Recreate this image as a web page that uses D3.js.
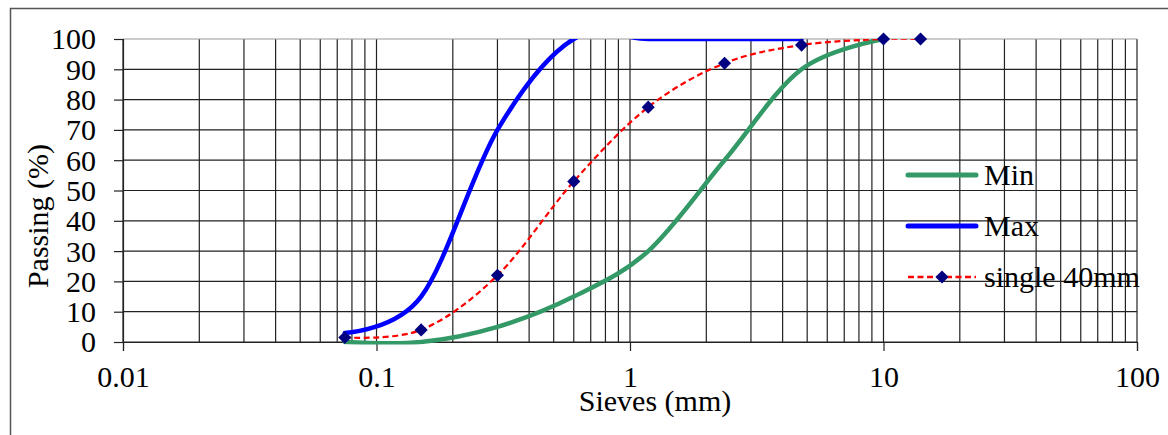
<!DOCTYPE html>
<html>
<head>
<meta charset="utf-8">
<script src="https://cdn.jsdelivr.net/npm/d3@7"></script>
<style>
  html, body { margin: 0; padding: 0; background: #fff; }
  svg { display: block; }
  text { font-family: "Liberation Serif", "Times New Roman", serif; fill: #000; }
</style>
</head>
<body>
<svg id="chart" width="1168" height="435"></svg>
<script>
// ---- data ----
const sieves = [0.075, 0.15, 0.3, 0.6, 1.18, 2.36, 4.75, 10, 14];
const single40 = [1.5, 4, 22, 53, 77.5, 92, 98, 100, 100];
const minSieves = [0.075, 0.15, 0.3, 0.6, 1.18, 2.36, 4.75, 10];
const minPass = [0, 0, 5, 15, 30, 60, 90, 100];
const maxSieves = [0.075, 0.15, 0.3, 0.6, 1.18, 2.36, 4.75];
const maxPass = [3, 15, 70, 100, 100, 100, 100];
const xTickValues = [0.01, 0.1, 1, 10, 100];
const xTickLabels = ["0.01", "0.1", "1", "10", "100"];
const yTickValues = [0, 10, 20, 30, 40, 50, 60, 70, 80, 90, 100];
const seriesNames = ["Min", "Max", "single 40mm"];

(function () {
// ---- layout ----
const svg = d3.select("#chart");
const pLeft = 123, pRight = 1137, pTop = 39, pBottom = 342;
const x = d3.scaleLog().domain([0.01, 100]).range([pLeft, pRight]);
const y = d3.scaleLinear().domain([0, 100]).range([pBottom, pTop]);

// outer frame
svg.append("path")
  .attr("d", `M10.5,436 L10.5,8.5 L1170,8.5`)
  .attr("fill", "none").attr("stroke", "#555").attr("stroke-width", 1.5);

// vertical gridlines (major + minor)
const vGrid = [];
for (let k = -2; k <= 1; k++) {
  for (let m = 1; m <= 9; m++) vGrid.push(m * Math.pow(10, k));
}
vGrid.push(100);
const grid = svg.append("g");
grid.selectAll("line.v").data(vGrid).join("line").attr("class", "v")
  .attr("x1", d => x(d)).attr("x2", d => x(d))
  .attr("y1", pTop).attr("y2", pBottom)
  .attr("stroke", "#222").attr("stroke-width", 1.2);

// horizontal gridlines
grid.selectAll("line.h").data(yTickValues).join("line").attr("class", "h")
  .attr("x1", pLeft).attr("x2", pRight)
  .attr("y1", d => y(d)).attr("y2", d => y(d))
  .attr("stroke", d => d === 100 ? "#999" : "#222").attr("stroke-width", 1.2);

// y axis
const yAxis = d3.axisLeft(y).tickValues(yTickValues).tickSize(9).tickPadding(18).tickFormat(d3.format("d"));
const gy = svg.append("g").attr("transform", `translate(${pLeft},0)`).call(yAxis);
gy.select(".domain").attr("stroke", "#222").attr("stroke-width", 1.2);
gy.selectAll(".tick line").attr("stroke", "#222").attr("stroke-width", 1.2);
gy.selectAll(".tick text").style("font-family", '"Liberation Serif", serif').style("font-size", "30px").attr("fill", "#000").attr("dy", "0.33em");

// x axis
const xAxis = d3.axisBottom(x).tickValues(xTickValues).tickSize(9).tickPadding(15)
  .tickFormat((d, i) => xTickLabels[i]);
const gx = svg.append("g").attr("transform", `translate(0,${pBottom})`).call(xAxis);
gx.select(".domain").attr("stroke", "#222").attr("stroke-width", 1.2);
gx.selectAll(".tick line").attr("stroke", "#222").attr("stroke-width", 1.2);
gx.selectAll(".tick text").style("font-family", '"Liberation Serif", serif').style("font-size", "30px").attr("fill", "#000").attr("dy", "0.71em");

// axis titles
svg.append("text").attr("x", 655).attr("y", 411).attr("text-anchor", "middle")
  .style("font-size", "30px").text("Sieves (mm)");
svg.append("text").attr("transform", "translate(48,216) rotate(-90)").attr("text-anchor", "middle")
  .style("font-size", "30px").text("Passing (%)");

// clip
svg.append("defs").append("clipPath").attr("id", "plotclip")
  .append("rect").attr("x", pLeft - 10).attr("y", pTop).attr("width", pRight - pLeft + 20).attr("height", pBottom - pTop + 2.5);

const line = d3.line().x(d => x(d[0])).y(d => y(d[1])).curve(d3.curveCatmullRom.alpha(0));
const plot = svg.append("g").attr("clip-path", "url(#plotclip)");

plot.append("path").datum(minSieves.map((s, i) => [s, minPass[i]]))
  .attr("d", line).attr("fill", "none").attr("stroke", "#339966").attr("stroke-width", 4.5).attr("stroke-linecap", "round");
plot.append("path").datum(maxSieves.map((s, i) => [s, maxPass[i]]))
  .attr("d", line).attr("fill", "none").attr("stroke", "#0000ff").attr("stroke-width", 4.5).attr("stroke-linecap", "round");
plot.append("path").datum(sieves.map((s, i) => [s, single40[i]]))
  .attr("d", line).attr("fill", "none").attr("stroke", "#ff0000").attr("stroke-width", 2.2).attr("stroke-dasharray", "6,3.5");

// markers
const diamond = d3.symbol().type(d3.symbolDiamond2).size(110);
svg.append("g").selectAll("path").data(sieves.map((s, i) => [s, single40[i]])).join("path")
  .attr("transform", d => `translate(${x(d[0])},${y(d[1])})`)
  .attr("d", diamond).attr("fill", "#000080");

// legend
const lg = svg.append("g");
const legendY = [175, 226, 277];
const legendStyles = [
  { stroke: "#339966", w: 5, dash: null, marker: false },
  { stroke: "#0000ff", w: 5, dash: null, marker: false },
  { stroke: "#ff0000", w: 2.5, dash: "6,3.5", marker: true }
];
seriesNames.forEach((name, i) => {
  const st = legendStyles[i];
  const ln = lg.append("line").attr("x1", 908).attr("x2", 976).attr("y1", legendY[i]).attr("y2", legendY[i])
    .attr("stroke", st.stroke).attr("stroke-width", st.w).attr("stroke-linecap", st.dash ? "butt" : "round");
  if (st.dash) ln.attr("stroke-dasharray", st.dash);
  if (st.marker) {
    lg.append("path").attr("transform", `translate(942,${legendY[i]})`).attr("d", diamond).attr("fill", "#000080");
  }
  lg.append("text").attr("x", 984).attr("y", legendY[i] + 10).style("font-size", "30px").text(name);
});
})();
</script>
</body>
</html>
